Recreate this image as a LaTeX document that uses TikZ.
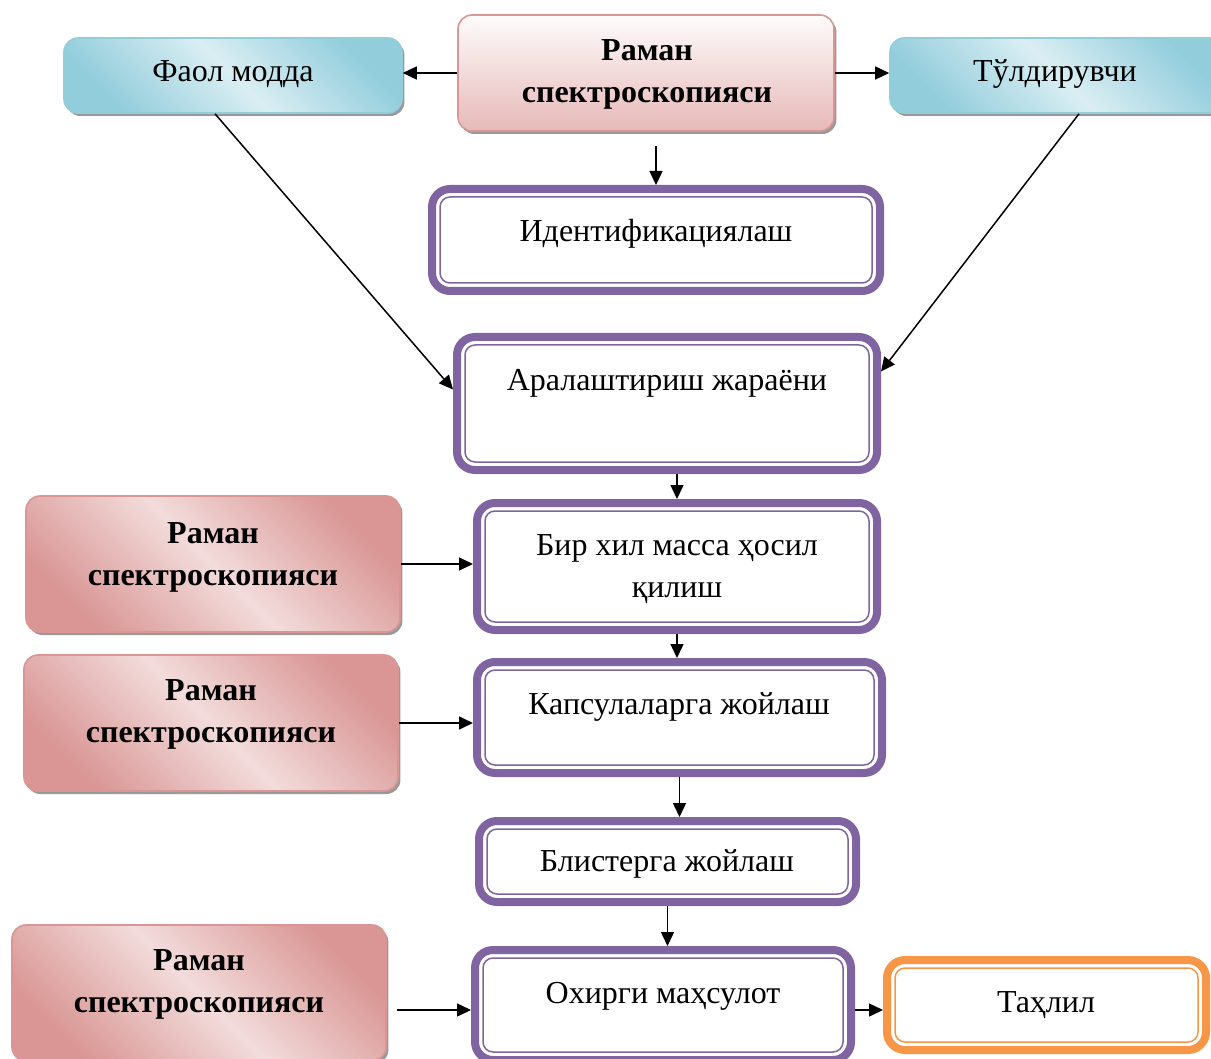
\documentclass[tikz,border=0pt]{standalone}
\usepackage{fontspec}
\setmainfont{Liberation Serif}
\usetikzlibrary{arrows.meta,shadows}

\definecolor{ramanpink}{HTML}{D99694}
\definecolor{ramanlight}{HTML}{F2DCDB}
\definecolor{ramantop}{HTML}{E6B9B8}
\definecolor{faolblue}{HTML}{92CDDC}
\definecolor{faollight}{HTML}{DAEEF3}
\definecolor{stagepurple}{HTML}{8064A2}
\definecolor{tahlilorange}{HTML}{F79646}

% thin inner line of a framed box
\newcommand\innerframe[2]{%
  \draw[draw=#2,line width=0.75pt,rounded corners=5pt]
    ([xshift=6pt,yshift=-6pt]#1.north west) rectangle ([xshift=-6pt,yshift=6pt]#1.south east);}

\tikzset{
  boxshadow/.style={drop shadow={shadow xshift=1.2pt,shadow yshift=-1.5pt,fill=black!40,opacity=1}},
  raman/.style={draw=ramanpink,line width=0.8pt,rounded corners=7pt,boxshadow,
    shading=axis,top color=ramanpink,bottom color=ramanpink,middle color=ramanlight,shading angle=-45},
  ramanhead/.style={draw=ramanpink,line width=0.8pt,rounded corners=7pt,boxshadow,
    top color=white!95!ramantop,bottom color=ramantop},
  ingredient/.style={draw=faolblue,line width=0.8pt,rounded corners=7pt,boxshadow,
    shading=axis,top color=faolblue,bottom color=faolblue,middle color=faollight,shading angle=-45},
  stage/.style={draw=stagepurple,line width=4pt,rounded corners=9pt,fill=white},
  result/.style={stage,draw=tahlilorange},
  txt/.style={font=\fontsize{16}{21}\selectfont,align=center,inner sep=0pt},
  boldtxt/.style={txt,font=\fontsize{16}{21}\selectfont\bfseries},
  >={Triangle[length=7pt,width=6.5pt]}
}

\begin{document}
\begin{tikzpicture}[x=0.5pt,y=-0.5pt,line width=0.75pt]
  \clip (0,0) rectangle (1211,1059);

  % boxes
  \node[ramanhead,minimum width=188pt,minimum height=58pt] (raman_top) at (646,73) {};
  \node[ingredient,minimum width=169pt,minimum height=37.5pt] (faol) at (233,75.5) {};
  \node[ingredient,minimum width=169pt,minimum height=37.5pt] (tuld) at (1059,75.5) {};
  \node[stage,minimum width=224pt,minimum height=51pt] (ident) at (656,240) {};
  \node[stage,minimum width=210pt,minimum height=66.5pt] (mix) at (667,403.5) {};
  \node[stage,minimum width=200pt,minimum height=63.5pt] (mass) at (677,566.5) {};
  \node[stage,minimum width=202.5pt,minimum height=55.5pt] (caps) at (679.5,717.5) {};
  \node[stage,minimum width=188.5pt,minimum height=40.5pt] (blister) at (667.5,861.5) {};
  \node[stage,minimum width=188pt,minimum height=55pt] (final) at (663,1005) {};
  \node[result,minimum width=159.5pt,minimum height=45pt] (tahlil) at (1046.5,1005) {};
  \node[raman,minimum width=187pt,minimum height=68pt] (raman_a) at (213,564) {};
  \node[raman,minimum width=187pt,minimum height=68pt] (raman_b) at (211,723) {};
  \node[raman,minimum width=187pt,minimum height=68pt] (raman_c) at (199,993) {};

  % inner lines of the framed boxes
  \foreach \nd in {ident,mix,mass,caps,blister,final}
    {\innerframe{\nd}{stagepurple}}
  \innerframe{tahlil}{tahlilorange}

  % texts
  \node[boldtxt] (raman_top_l) at (647,74) {Раман\\спектроскопияси};
  \node[txt] (faol_l) at (233,74) {Фаол модда};
  \node[txt] (tuld_l) at (1055,74) {Тўлдирувчи};
  \node[txt] (ident_l) at (656,234) {Идентификациялаш};
  \node[txt] (mix_l) at (667,383) {Аралаштириш жараёни};
  \node[txt] (mass_l) at (677,569) {Бир хил масса ҳосил\\қилиш};
  \node[txt] (caps_l) at (679,707) {Капсулаларга жойлаш};
  \node[txt] (blister_l) at (667,864) {Блистерга жойлаш};
  \node[txt] (final_l) at (663,996) {Охирги маҳсулот};
  \node[txt] (tahlil_l) at (1046,1005) {Таҳлил};
  \node[boldtxt] (raman_a_l) at (213,557) {Раман\\спектроскопияси};
  \node[boldtxt] (raman_b_l) at (211,714) {Раман\\спектроскопияси};
  \node[boldtxt] (raman_c_l) at (199,984) {Раман\\спектроскопияси};

  % connectors
  \path[->]
    (raman_top.west) edge (raman_top.west -| faol.east)
    (raman_top.east) edge (raman_top.east -| tuld.west)
    (ident.north |- raman_top.south) edge[shorten <=7pt] (ident.north)
    ([xshift=-9pt]faol.south) edge ([yshift=7pt]mix.west)
    ([xshift=10pt]tuld.south) edge ([yshift=16pt]mix.east)
    (mass.north |- mix.south) edge (mass.north)
    (mass.south) edge (mass.south |- caps.north)
    (caps.south) edge (caps.south |- blister.north)
    (blister.south) edge (blister.south |- final.north)
    (raman_a.east) edge (raman_a.east -| mass.west)
    (raman_b.east) edge (raman_b.east -| caps.west)
    ([yshift=-8.5pt]raman_c.east) edge[shorten <=5pt] ([yshift=-8.5pt]raman_c.east -| final.west)
    ([yshift=-2.5pt]final.east) edge ([yshift=-2.5pt]final.east -| tahlil.west);
\end{tikzpicture}
\end{document}
